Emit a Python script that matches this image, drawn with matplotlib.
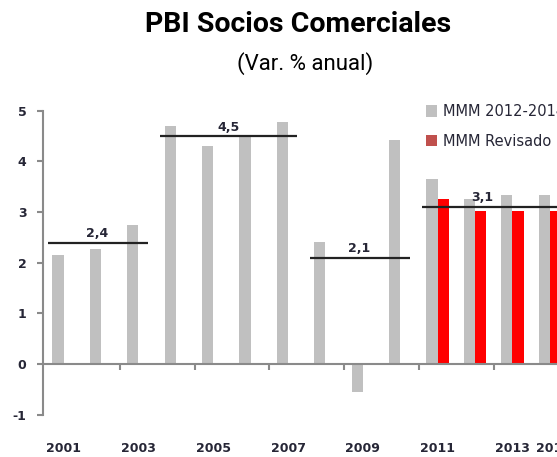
import matplotlib
matplotlib.use("Agg")
import matplotlib.pyplot as plt
from matplotlib.patches import Patch

years = [2001, 2002, 2003, 2004, 2005, 2006, 2007, 2008, 2009, 2010, 2011, 2012, 2013, 2014]
mmm_2012_2014 = [2.15, 2.28, 2.75, 4.70, 4.30, 4.50, 4.78, 2.42, -0.55, 4.43, 3.65, 3.25, 3.33, 3.33]
rev_years = [2011, 2012, 2013, 2014]
mmm_revisado = [3.25, 3.02, 3.02, 3.02]

avg_values = [2.4, 4.5, 2.1, 3.1]
avg_labels = ["2,4", "4,5", "2,1", "3,1"]
avg_start = [2001, 2004, 2008, 2011]
avg_end = [2003, 2007, 2010, 2016]

label_years = [2001, 2003, 2005, 2007, 2009, 2011, 2013, 2014]
series_names = ["MMM 2012-2014", "MMM Revisado"]

W, H = 557, 457
fig = plt.figure(figsize=(W / 100, H / 100), dpi=100)
ax = fig.add_axes([43 / W, 1 - 414.9 / H, 563 / W, (414.9 - 110.7) / H])

bw = 0.3
gray = "#c0c0c0"
red = "#ff0000"
txtc = "#262636"
ax.bar([y - bw / 2 for y in years], mmm_2012_2014, width=bw, color=gray, zorder=2)
ax.bar([y + bw / 2 for y in rev_years], mmm_revisado, width=bw, color=red, zorder=2)

for v, lab, s, e in zip(avg_values, avg_labels, avg_start, avg_end):
    ax.plot([s - 0.42, e + 0.25], [v, v], color="#222222", lw=1.6, zorder=3,
            solid_capstyle="butt")
    cx = (s + e) / 2 if e < 2015 else 2012.3
    ax.text(cx - 0.1, v + 0.05, lab, ha="center", va="bottom", fontsize=9,
            fontweight="bold", color=txtc, zorder=4)

ax.set_xlim(2000.45, 2015.5)
ax.set_ylim(-1, 5)

for sp in ["top", "right"]:
    ax.spines[sp].set_visible(False)
ax.spines["bottom"].set_position(("data", 0))
ax.spines["bottom"].set_color("#8a8a8a")
ax.spines["left"].set_color("#8a8a8a")
ax.spines["bottom"].set_linewidth(1.5)
ax.spines["left"].set_linewidth(1.5)

ax.set_xticks([2002.5, 2004.5, 2006.5, 2008.5, 2010.5, 2012.5, 2014.5])
ax.set_xticklabels([])
ax.tick_params(axis="x", direction="out", length=4, width=1.5, color="#8a8a8a")
ax.set_yticks([-1, 0, 1, 2, 3, 4, 5])
ax.set_yticklabels(["-1", "0", "1", "2", "3", "4", "5"], fontsize=9,
                   fontweight="bold", color=txtc)
ax.tick_params(axis="y", direction="out", length=4, width=1.5, color="#8a8a8a", pad=8)

for y in label_years:
    xx = y + 0.1 if y == 2014 else y
    ax.text(xx, -1.67, str(y), ha="center", va="center", fontsize=9,
            fontweight="bold", color=txtc, clip_on=False)

fig.text(298 / W, 1 - 24 / H, "PBI Socios Comerciales", ha="center", va="center",
         fontsize=20.5, fontweight="bold", family=["Roboto", "DejaVu Sans"])
fig.text(305 / W, 1 - 64 / H, "(Var. % anual)", ha="center", va="center",
         fontsize=16, family=["Roboto", "DejaVu Sans"])

handles = [Patch(facecolor=gray, edgecolor="none"), Patch(facecolor="#c0504d", edgecolor="none")]
fig.legend(handles, series_names, loc="upper left", bbox_to_anchor=(426 / W, 1 - 104 / H),
           frameon=False, fontsize=10.5, handlelength=0.75, handleheight=0.85,
           handletextpad=0.4, labelspacing=1.0, borderaxespad=0, borderpad=0,
           labelcolor=txtc)

fig.savefig("out.png", dpi=100)
